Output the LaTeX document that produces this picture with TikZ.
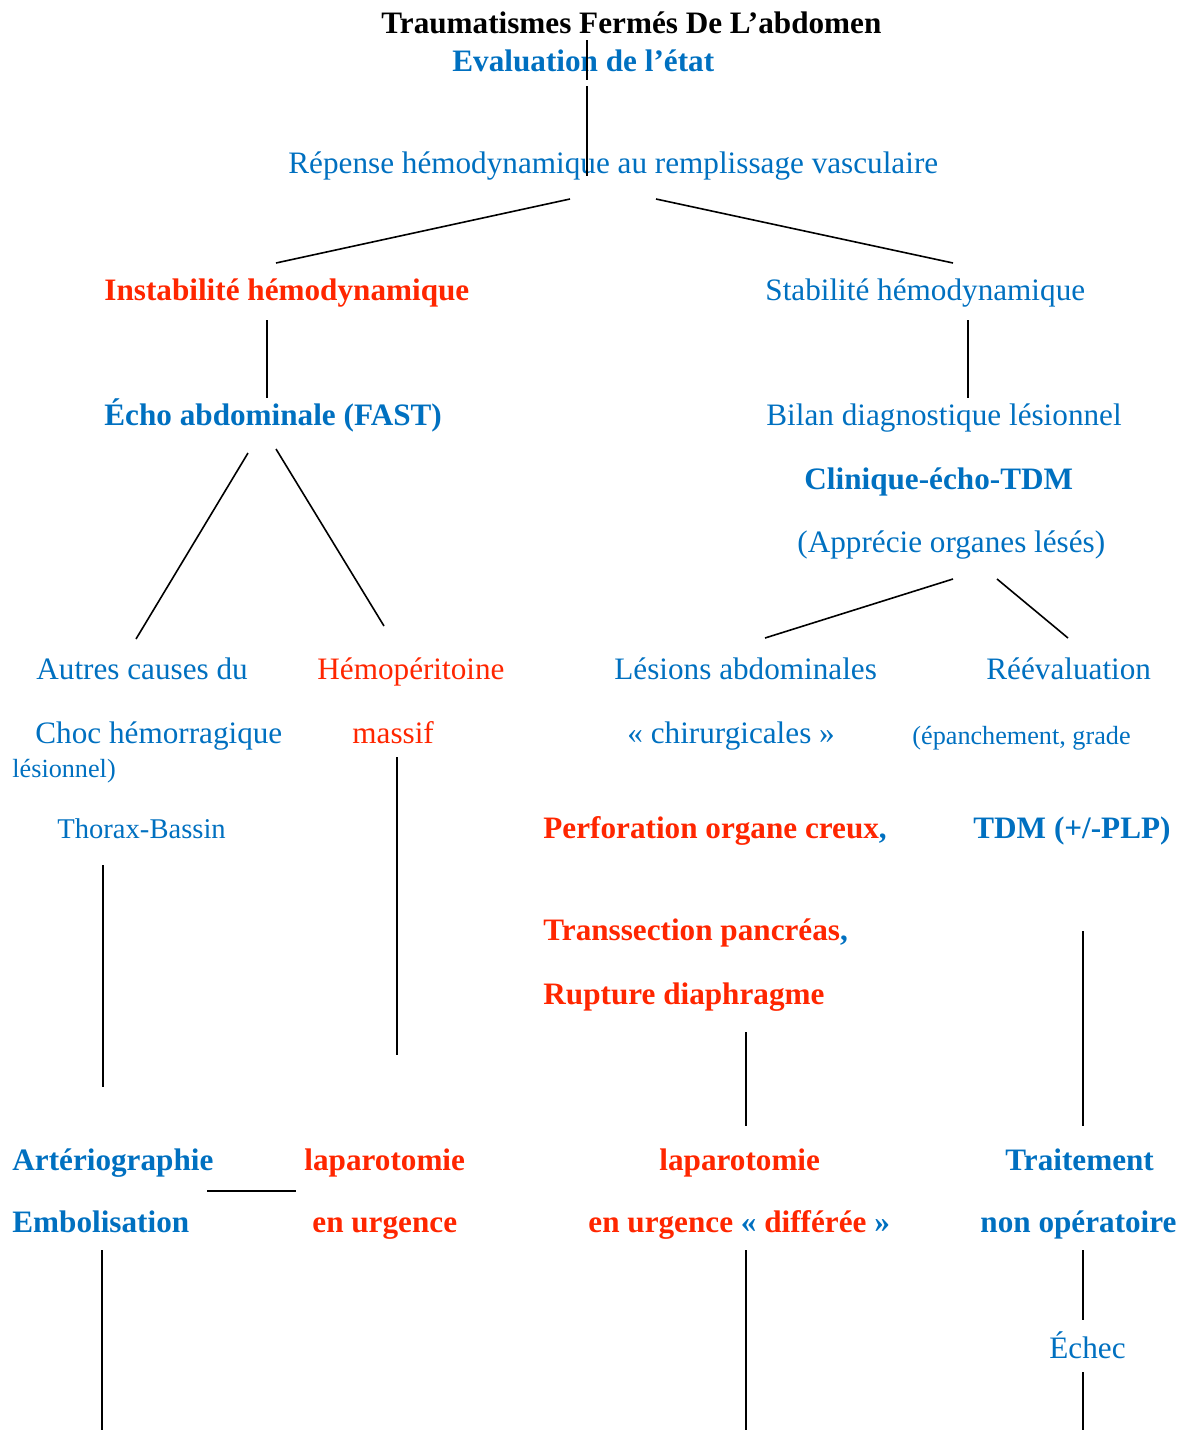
\documentclass[tikz,border=0pt]{standalone}
\usepackage{fontspec}
\setmainfont{Liberation Serif}
\definecolor{wblue}{RGB}{0,112,192}
\definecolor{wred}{RGB}{255,38,0}
\begin{document}
\begin{tikzpicture}[x=0.5pt,y=-0.5pt,
  txt/.style={anchor=base west, inner sep=0pt, font=\fontsize{15.6}{18}\selectfont},
  sml/.style={anchor=base west, inner sep=0pt, font=\fontsize{13.1}{15}\selectfont},
  mid/.style={anchor=base west, inner sep=0pt, font=\fontsize{14.3}{16}\selectfont},
  bl/.style={text=wblue},
  rd/.style={text=wred},
  bk/.style={text=black},
  bfs/.style={font=\fontsize{15.6}{18}\selectfont\bfseries},
  link/.style={draw=black, line width=0.8pt}]
\useasboundingbox (0,0) rectangle (1190,1430);

% ---- texts ----
\node[txt,bk,bfs] (title) at (381,33) {Traumatismes Fermés De L’abdomen};
\node[txt,bl,bfs] (eval) at (452,71) {Evaluation de l’état};
\node[txt,bl] (rep) at (288,173) {Répense hémodynamique au remplissage vasculaire};

\node[txt,rd,bfs] (instab) at (104,300) {Instabilité hémodynamique};
\node[txt,bl] (stab) at (765,300) {Stabilité hémodynamique};

\node[txt,bl,bfs] (echo) at (104,425) {Écho abdominale (FAST)};
\node[txt,bl] (bilan) at (766,425) {Bilan diagnostique lésionnel};
\node[txt,bl,bfs] (clin) at (804,489) {Clinique-écho-TDM};
\node[txt,bl] (appr) at (797,552) {(Apprécie organes lésés)};

\node[txt,bl] (autres) at (36,679) {Autres causes du};
\node[txt,bl] (choc) at (35,743) {Choc hémorragique};
\node[sml,bl] (lesio) at (12,777) {lésionnel)};
\node[mid,bl] (thorax) at (57,838) {Thorax-Bassin};

\node[txt,rd] (hemo) at (317,679) {Hémopéritoine};
\node[txt,rd] (massif) at (352,743) {massif};

\node[txt,bl] (lesions) at (614,679) {Lésions abdominales};
\node[txt,bl] (chir) at (627,743) {« chirurgicales »};
\node[txt,rd,bfs] (perf) at (543,838) {Perforation organe creux{\color{wblue},}};
\node[txt,rd,bfs] (trans) at (543,940) {Transsection pancréas{\color{wblue},}};
\node[txt,rd,bfs] (rupt) at (543,1004) {Rupture diaphragme};

\node[txt,bl] (reev) at (986,679) {Réévaluation};
\node[sml,bl] (epan) at (912,744) {(épanchement, grade};
\node[txt,bl,bfs] (tdm) at (973,838) {TDM (+/-PLP)};

\node[txt,bl,bfs] (arter) at (12,1170) {Artériographie};
\node[txt,bl,bfs] (embol) at (12,1232) {Embolisation};
\node[txt,rd,bfs] (lap1) at (304,1170) {laparotomie};
\node[txt,rd,bfs] (urg1) at (312,1232) {en urgence};
\node[txt,rd,bfs] (lap2) at (659,1170) {laparotomie};
\node[txt,rd,bfs] (urg2) at (588,1232) {en urgence {\color{wblue}«} différée {\color{wblue}»}};
\node[txt,bl,bfs] (trait) at (1005,1170) {Traitement};
\node[txt,bl,bfs] (nonop) at (980,1232) {non opératoire};
\node[txt,bl] (echec) at (1049,1358) {Échec};

% ---- connector end points ----
\coordinate (t0) at (587,40);   \coordinate (t1) at (587,80);
\coordinate (t2) at (587,86);   \coordinate (t3) at (587,176);
\coordinate (r1) at (570,199);  \coordinate (i0) at (276,263);
\coordinate (r2) at (656,199);  \coordinate (s0) at (953,263);
\coordinate (i1) at (267,320);  \coordinate (e0) at (267,398);
\coordinate (s1) at (968,320);  \coordinate (b0) at (968,398);
\coordinate (e1) at (248,453);  \coordinate (a0) at (136,639);
\coordinate (e2) at (276,449);  \coordinate (h0) at (384,626);
\coordinate (p1) at (953,579);  \coordinate (l0) at (765,638);
\coordinate (p2) at (997,579);  \coordinate (v0) at (1068,638);
\coordinate (m1) at (397,757);  \coordinate (m2) at (397,1055);
\coordinate (x1) at (103,865);  \coordinate (x2) at (103,1087);
\coordinate (d1) at (746,1032); \coordinate (d2) at (746,1126);
\coordinate (k1) at (1083,931); \coordinate (k2) at (1083,1126);
\coordinate (h1) at (207,1191); \coordinate (h2) at (296,1191);
\coordinate (q1) at (102,1250); \coordinate (q2) at (102,1430);
\coordinate (u1) at (746,1250); \coordinate (u2) at (746,1430);
\coordinate (n1) at (1083,1250);\coordinate (n2) at (1083,1320);
\coordinate (g1) at (1083,1372);\coordinate (g2) at (1083,1430);

% ---- connectors ----
\draw[link] (t0) -- (t1);
\draw[link] (t2) -- (t3);
\draw[link] (r1) -- (i0);
\draw[link] (r2) -- (s0);
\draw[link] (i1) -- (e0);
\draw[link] (s1) -- (b0);
\draw[link] (e1) -- (a0);
\draw[link] (e2) -- (h0);
\draw[link] (p1) -- (l0);
\draw[link] (p2) -- (v0);
\draw[link] (m1) -- (m2);
\draw[link] (x1) -- (x2);
\draw[link] (d1) -- (d2);
\draw[link] (k1) -- (k2);
\draw[link] (h1) -- (h2);
\draw[link] (q1) -- (q2);
\draw[link] (u1) -- (u2);
\draw[link] (n1) -- (n2);
\draw[link] (g1) -- (g2);
\end{tikzpicture}
\end{document}
